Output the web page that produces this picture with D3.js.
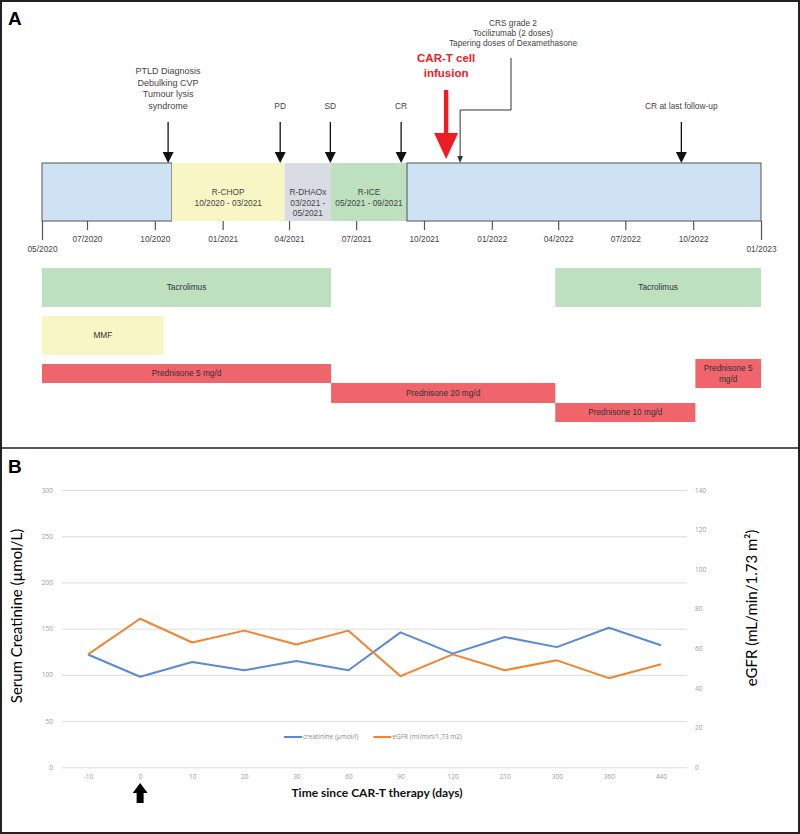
<!DOCTYPE html>
<html>
<head>
<meta charset="utf-8">
<script src="https://cdn.jsdelivr.net/npm/d3@7"></script>
<style>
  body { margin: 0; background: #fff; }
  svg { display: block; font-family: "Liberation Sans", Arial, sans-serif; }
</style>
</head>
<body>
<svg id="fig" width="800" height="834"></svg>
<script>
'use strict';

// ---- panel A data: treatment timeline ----
const phaseNames = ["", "R-CHOP", "R-DHAOx", "R-ICE", ""];
const phaseRanges = ["", "10/2020 - 03/2021", "03/2021 - 05/2021", "05/2021 - 09/2021", ""];
const phaseStarts = ["2020-05-01", "2020-10-24", "2021-03-26", "2021-05-28", "2021-09-08"];
const phaseEnds = ["2020-10-24", "2021-03-26", "2021-05-28", "2021-09-08", "2023-01-01"];
const phaseKinds = ["follow", "rchop", "rdhaox", "rice", "follow"];

const timeTicks = ["2020-05-01", "2020-07-01", "2020-10-01", "2021-01-01", "2021-04-01", "2021-07-01",
                   "2021-10-01", "2022-01-01", "2022-04-01", "2022-07-01", "2022-10-01", "2023-01-01"];

const eventLabels = [
    ["PTLD Diagnosis", "Debulking CVP", "Tumour lysis", "syndrome"],
    ["PD"], ["SD"], ["CR"], ["CR at last follow-up"]
];
const eventDates = ["2020-10-19", "2021-03-20", "2021-05-27", "2021-08-31", "2022-09-15"];

const cartLabel = ["CAR-T cell", "infusion"];
const cartDate = "2021-10-31";
const crsLabel = ["CRS grade 2", "Tocilizumab (2 doses)", "Tapering doses of Dexamethasone"];
const crsDate = "2021-11-19";

const drugNames = ["Tacrolimus", "Tacrolimus", "MMF", "Prednisone 5 mg/d", "Prednisone 20 mg/d",
                   "Prednisone 10 mg/d", "Prednisone 5 mg/d"];
const drugStarts = ["2020-05-01", "2022-03-28", "2020-05-01", "2020-05-01", "2021-05-28", "2022-03-28", "2022-10-04"];
const drugEnds = ["2021-05-28", "2023-01-01", "2020-10-13", "2021-05-28", "2022-03-28", "2022-10-04", "2023-01-01"];
const drugLanes = ["tac", "tac", "mmf", "pred1", "pred2", "pred3", "pred4"];

// ---- panel B data: renal function ----
const days = ["-10", "0", "10", "20", "30", "60", "90", "120", "210", "300", "360", "440"];
const creatinine = [122, 98, 114, 105, 115, 105, 146, 123, 141, 130, 151, 132];
const egfr = [57, 75, 63, 69, 62, 69, 46, 57, 49, 54, 45, 52];
const seriesNames = ["creatinine (µmol/l)", "eGFR (ml/min/1,73 m2)"];
const creatTicks = [0, 50, 100, 150, 200, 250, 300];
const egfrTicks = [0, 20, 40, 60, 80, 100, 120, 140];

const parse = d3.timeParse("%Y-%m-%d");
const svg = d3.select("#fig");

// frame
svg.append("rect").attr("x", 1).attr("y", 1).attr("width", 798).attr("height", 832)
    .attr("fill", "none").attr("stroke", "#222").attr("stroke-width", 2);
svg.append("line").attr("x1", 0).attr("x2", 800).attr("y1", 448).attr("y2", 448)
    .attr("stroke", "#222").attr("stroke-width", 1.5);
svg.append("text").attr("x", 8).attr("y", 25).attr("font-size", 19).attr("font-weight", "bold").text("A");
svg.append("text").attr("x", 8).attr("y", 473).attr("font-size", 19).attr("font-weight", "bold").text("B");

// measuring helper for wrapping
const measurer = svg.append("text").attr("font-size", 8.3).attr("visibility", "hidden");
function wrap(str, width) {
    const words = str.split(" ");
    const lines = [];
    let cur = "";
    words.forEach(w => {
        const test = cur ? cur + " " + w : w;
        measurer.text(test);
        if (cur && measurer.node().getComputedTextLength() > width) {
            lines.push(cur);
            cur = w;
        } else {
            cur = test;
        }
    });
    if (cur) lines.push(cur);
    return lines;
}

// ================= PANEL A =================
const x = d3.scaleTime()
    .domain([parse("2020-05-01"), parse("2023-01-01")])
    .range([42, 761]);

const barTop = 163, barBottom = 221;
const phaseFill = { follow: "#cfe2f3", rchop: "#f9f6c6", rdhaox: "#d9dce3", rice: "#bde0bf" };

const phases = phaseNames.map((n, i) => ({
    name: n, range: phaseRanges[i], start: parse(phaseStarts[i]), end: parse(phaseEnds[i]), kind: phaseKinds[i]
}));

const gPhase = svg.append("g");
gPhase.selectAll("rect")
    .data(phases)
    .join("rect")
      .attr("x", d => x(d.start))
      .attr("y", barTop)
      .attr("width", d => x(d.end) - x(d.start))
      .attr("height", barBottom - barTop)
      .attr("fill", d => phaseFill[d.kind])
      .attr("stroke", d => d.kind === "follow" ? "#555" : "none")
      .attr("stroke-width", 1);

phases.filter(d => d.name).forEach(d => {
    const cx = (x(d.start) + x(d.end)) / 2;
    const lines = [d.name].concat(wrap(d.range, x(d.end) - x(d.start) - 2));
    const t = gPhase.append("text")
        .attr("text-anchor", "middle")
        .attr("font-size", 8.3)
        .attr("fill", "#444");
    lines.forEach((l, i) => {
        t.append("tspan").attr("x", cx).attr("y", 195 + i * 10.5).text(l);
    });
});

// time axis
const xAxis = svg.append("g")
    .attr("transform", `translate(0,${barBottom})`)
    .call(d3.axisBottom(x)
        .tickValues(timeTicks.map(parse))
        .tickFormat(d3.timeFormat("%m/%Y"))
        .tickSize(9)
        .tickPadding(6));
xAxis.select(".domain").remove();
xAxis.selectAll(".tick line").attr("stroke", "#555").attr("stroke-width", 1.2);
xAxis.selectAll(".tick text").attr("font-size", 8.3).attr("fill", "#444")
    .attr("font-family", "Liberation Sans, Arial, sans-serif");
xAxis.selectAll(".tick").filter((d, i) => i === 0 || i === timeTicks.length - 1)
    .each(function() {
        d3.select(this).select("line").attr("y2", 19);
        d3.select(this).select("text").attr("y", 25);
    });

// event arrows
const gEvents = svg.append("g");
eventDates.forEach((dt, i) => {
    const ex = x(parse(dt));
    gEvents.append("line")
        .attr("x1", ex).attr("x2", ex).attr("y1", 122).attr("y2", 153)
        .attr("stroke", "#111").attr("stroke-width", 1.3);
    gEvents.append("path")
        .attr("d", `M${ex - 5.5},152 L${ex + 5.5},152 L${ex},${barTop} Z`)
        .attr("fill", "#111");
    const lines = eventLabels[i];
    const fs = lines.length > 1 ? 9 : 8.4;
    lines.forEach((l, j) => {
        gEvents.append("text")
            .attr("x", ex)
            .attr("y", 106 - (lines.length - 1 - j) * 11.8)
            .attr("dy", "0.35em")
            .attr("text-anchor", "middle")
            .attr("font-size", fs)
            .attr("fill", "#444")
            .text(l);
    });
});

// CAR-T infusion (red arrow)
const cx = x(parse(cartDate));
gEvents.append("rect")
    .attr("x", cx - 2.2).attr("y", 90).attr("width", 4.4).attr("height", 45)
    .attr("fill", "#ee1c25");
gEvents.append("path")
    .attr("d", `M${cx - 12},133 L${cx + 12},133 L${cx},159 Z`)
    .attr("fill", "#ee1c25");
cartLabel.forEach((l, j) => {
    gEvents.append("text")
        .attr("x", cx).attr("y", 58 + j * 14.5).attr("dy", "0.35em")
        .attr("text-anchor", "middle")
        .attr("font-size", 11.5).attr("font-weight", "bold")
        .attr("fill", "#ee1c25")
        .text(l);
});

// CRS elbow arrow
const crx = x(parse(crsDate));
const crsTextX = 511;
gEvents.append("path")
    .attr("d", `M${crsTextX},58 L${crsTextX},110 L${crx},110 L${crx},157`)
    .attr("fill", "none").attr("stroke", "#333").attr("stroke-width", 1);
gEvents.append("path")
    .attr("d", `M${crx - 2.8},156 L${crx + 2.8},156 L${crx},${barTop} Z`)
    .attr("fill", "#333");
crsLabel.forEach((l, j) => {
    gEvents.append("text")
        .attr("x", crsTextX + 2).attr("y", 22.7 + j * 10.3).attr("dy", "0.35em")
        .attr("text-anchor", "middle")
        .attr("font-size", 8.3).attr("fill", "#444")
        .text(l);
});

// drug bars
const laneBox = {
    tac: [268, 307], mmf: [316, 355], pred1: [364, 383], pred2: [383, 403], pred3: [403, 422], pred4: [359, 388]
};
const drugFill = { tac: "#bde0bf", mmf: "#f9f6c6" };
const drugs = drugNames.map((n, i) => ({
    name: n, start: parse(drugStarts[i]), end: parse(drugEnds[i]), lane: drugLanes[i]
}));
const gDrug = svg.append("g");
gDrug.selectAll("rect")
    .data(drugs)
    .join("rect")
      .attr("x", d => x(d.start))
      .attr("y", d => laneBox[d.lane][0])
      .attr("width", d => x(d.end) - x(d.start))
      .attr("height", d => laneBox[d.lane][1] - laneBox[d.lane][0])
      .attr("fill", d => drugFill[d.lane] || "#f0646c");

drugs.forEach(d => {
    const bx = (x(d.start) + x(d.end)) / 2;
    const [y0, y1] = laneBox[d.lane];
    const lines = wrap(d.name, x(d.end) - x(d.start) - 8);
    const by = (y0 + y1) / 2 - (lines.length - 1) * 5.3;
    lines.forEach((l, j) => {
        gDrug.append("text")
            .attr("x", bx).attr("y", by + j * 10.6).attr("dy", "0.35em")
            .attr("text-anchor", "middle")
            .attr("font-size", 8.3).attr("fill", "#333")
            .text(l);
    });
});

// ================= PANEL B =================
const pLeft = 62, pRight = 687, pTop = 490, pBottom = 767.3;

const xb = d3.scalePoint().domain(days).range([pLeft, pRight]).padding(0.5);
const yL = d3.scaleLinear().domain([0, 300]).range([pBottom, pTop]);
const yR = d3.scaleLinear().domain([0, 140]).range([pBottom, pTop]);

// gridlines
const grid = svg.append("g")
    .attr("transform", `translate(${pLeft},0)`)
    .call(d3.axisLeft(yL).tickValues(creatTicks).tickSize(-(pRight - pLeft)).tickFormat(""));
grid.select(".domain").remove();
grid.selectAll(".tick line").attr("stroke", "#dcdcdc").attr("stroke-width", 1);

const tickFont = "Open Sans, Liberation Sans, sans-serif";

const axL = svg.append("g")
    .attr("transform", `translate(${pLeft},0)`)
    .call(d3.axisLeft(yL).tickValues(creatTicks).tickSize(0).tickPadding(9));
axL.select(".domain").remove();
axL.selectAll("text").attr("font-size", 6.5).attr("fill", "#9a9a9a").attr("font-family", tickFont);

const axR = svg.append("g")
    .attr("transform", `translate(${pRight},0)`)
    .call(d3.axisRight(yR).tickValues(egfrTicks).tickSize(0).tickPadding(8));
axR.select(".domain").remove();
axR.selectAll("text").attr("font-size", 6.5).attr("fill", "#9a9a9a").attr("font-family", tickFont);

const axB = svg.append("g")
    .attr("transform", `translate(0,${pBottom})`)
    .call(d3.axisBottom(xb).tickSize(0).tickPadding(7));
axB.select(".domain").remove();
axB.selectAll("text").attr("font-size", 6.5).attr("fill", "#9a9a9a").attr("font-family", tickFont);

// lines
const series = [
    { name: seriesNames[0], values: creatinine, y: yL, color: "#5a8ad6" },
    { name: seriesNames[1], values: egfr, y: yR, color: "#f2832f" }
];
series.forEach(s => {
    svg.append("path")
        .datum(s.values)
        .attr("fill", "none")
        .attr("stroke", s.color)
        .attr("stroke-width", 2)
        .attr("stroke-linejoin", "round")
        .attr("d", d3.line()
            .x((d, i) => xb(days[i]))
            .y(d => s.y(d)));
});

// legend
const legend = svg.append("g").attr("transform", "translate(284,737)");
let lx = 0;
series.forEach(s => {
    legend.append("line")
        .attr("x1", lx).attr("x2", lx + 18).attr("y1", 0).attr("y2", 0)
        .attr("stroke", s.color).attr("stroke-width", 2);
    const t = legend.append("text")
        .attr("x", lx + 19).attr("y", 0).attr("dy", "0.35em")
        .attr("font-size", 6.5).attr("fill", "#8a8a8a").attr("font-family", tickFont)
        .text(s.name);
    lx += 19 + t.node().getComputedTextLength() + 15;
});

// axis titles
const titleFont = "Lato, Open Sans, sans-serif";
svg.append("text")
    .attr("transform", `translate(22,616) rotate(-90)`)
    .attr("text-anchor", "middle")
    .attr("font-size", 15).attr("font-family", titleFont).attr("fill", "#000")
    .text("Serum Creatinine (µmol/L)");
svg.append("text")
    .attr("transform", `translate(757,608) rotate(-90)`)
    .attr("text-anchor", "middle")
    .attr("font-size", 15).attr("font-family", titleFont).attr("fill", "#000")
    .text("eGFR (mL/min/1.73 m²)");
svg.append("text")
    .attr("x", 377).attr("y", 797)
    .attr("text-anchor", "middle")
    .attr("font-size", 12).attr("font-weight", "bold").attr("font-family", titleFont).attr("fill", "#111")
    .text("Time since CAR-T therapy (days)");

// arrow marking CAR-T day 0
const ax0 = xb("0");
svg.append("path")
    .attr("d", `M${ax0},783 L${ax0 + 7.5},793 L${ax0 + 3.5},793 L${ax0 + 3.5},803 L${ax0 - 3.5},803 L${ax0 - 3.5},793 L${ax0 - 7.5},793 Z`)
    .attr("fill", "#000");

measurer.remove();
</script>
</body>
</html>
